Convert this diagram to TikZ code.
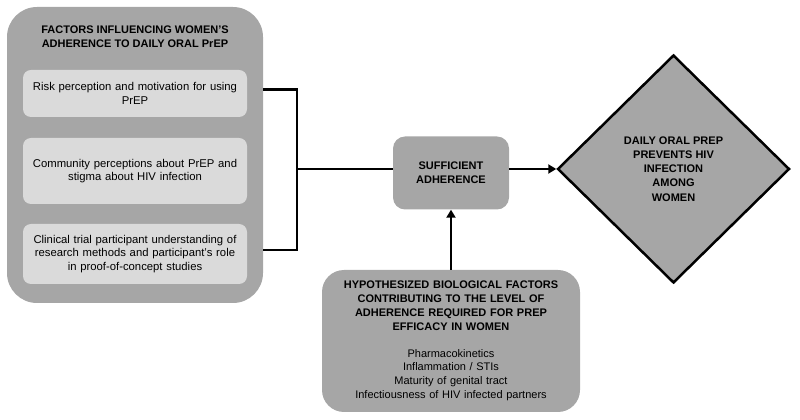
\documentclass[tikz,border=0pt]{standalone}
\usepackage{fontspec}
\setmainfont{Liberation Sans}
\usetikzlibrary{shapes.geometric,arrows.meta}

\definecolor{darkbox}{HTML}{A6A6A6}
\definecolor{lightbox}{HTML}{DADADA}

\def\scale{1pt}

\begin{document}
\begin{tikzpicture}[%
	x=\scale, y=\scale,%
	font=\fontsize{11}{13.8}\selectfont,%
	title/.style ={font=\fontsize{11}{14}\selectfont\bfseries, align=center},%
	outer/.style ={fill=darkbox, rounded corners=30pt, minimum width=256pt, minimum height=296pt},%
	factor/.style ={fill=lightbox, rounded corners=8pt, minimum width=224pt, text width=218pt, align=center, inner sep=3pt, font=\fontsize{11.3}{13.4}\selectfont},%
	adherence/.style ={fill=darkbox, rounded corners=12pt, minimum width=116pt, minimum height=73pt, title},%
	outcome/.style ={diamond, draw, line width=2.5pt, fill=darkbox, minimum width=232pt, minimum height=228pt, title, font=\fontsize{11}{14.2}\selectfont\bfseries},%
	biology/.style ={fill=darkbox, rounded corners=22pt, minimum width=258pt, minimum height=142pt, text width=250pt, align=center},%
	wire/.style ={line width=2.5pt},%
	arrow/.style ={line width=2.5pt, -{Triangle[length=8pt,width=9pt]}},%
	]
	\useasboundingbox (0,0) rectangle (800,420);
%%% left block
	\node [outer] (fac) at (135,265) {};
	\node [title] (factitle) at (135,383) {FACTORS INFLUENCING WOMEN'S\\ADHERENCE TO DAILY ORAL PrEP};
	\node [factor, minimum height=47pt] (f1) at (135,326.5) {Risk perception and motivation for using\\PrEP};
	\node [factor, minimum height=66pt] (f2) at (135,249) {Community perceptions about PrEP and\\stigma about HIV infection};
	\node [factor, minimum height=60pt] (f3) at (135,166) {Clinical trial participant understanding of\\research methods and participant's role\\in proof-of-concept studies};
%%% left block
%%% middle and right
	\node [adherence] (suff) at (451,247) {SUFFICIENT\\ADHERENCE};
	\node [outcome] (prep) at (673.5,251) {DAILY ORAL PREP\\PREVENTS HIV\\INFECTION\\AMONG\\WOMEN};
	\node [biology] (bio) at (451,79) {\bfseries HYPOTHESIZED BIOLOGICAL FACTORS\\CONTRIBUTING TO THE LEVEL OF\\ADHERENCE REQUIRED FOR PREP\\EFFICACY IN WOMEN\\[13pt]
		\mdseries Pharmacokinetics\\Inflammation / STIs\\Maturity of genital tract\\Infectiousness of HIV infected partners};
%%% middle and right
%%% connectors
	\coordinate (brk) at (297,251);
	\foreach \f in {f1,f3}
		{\draw [wire] ([yshift=4pt]\f.east -| fac.east) -| (brk);}
	\draw [wire] (brk) -- (brk -| suff.west);
	\draw [arrow] (suff.east |- prep.west) -- (prep.west);
	\draw [arrow] (bio) -- (suff);
%%% connectors
\end{tikzpicture}
\end{document}
